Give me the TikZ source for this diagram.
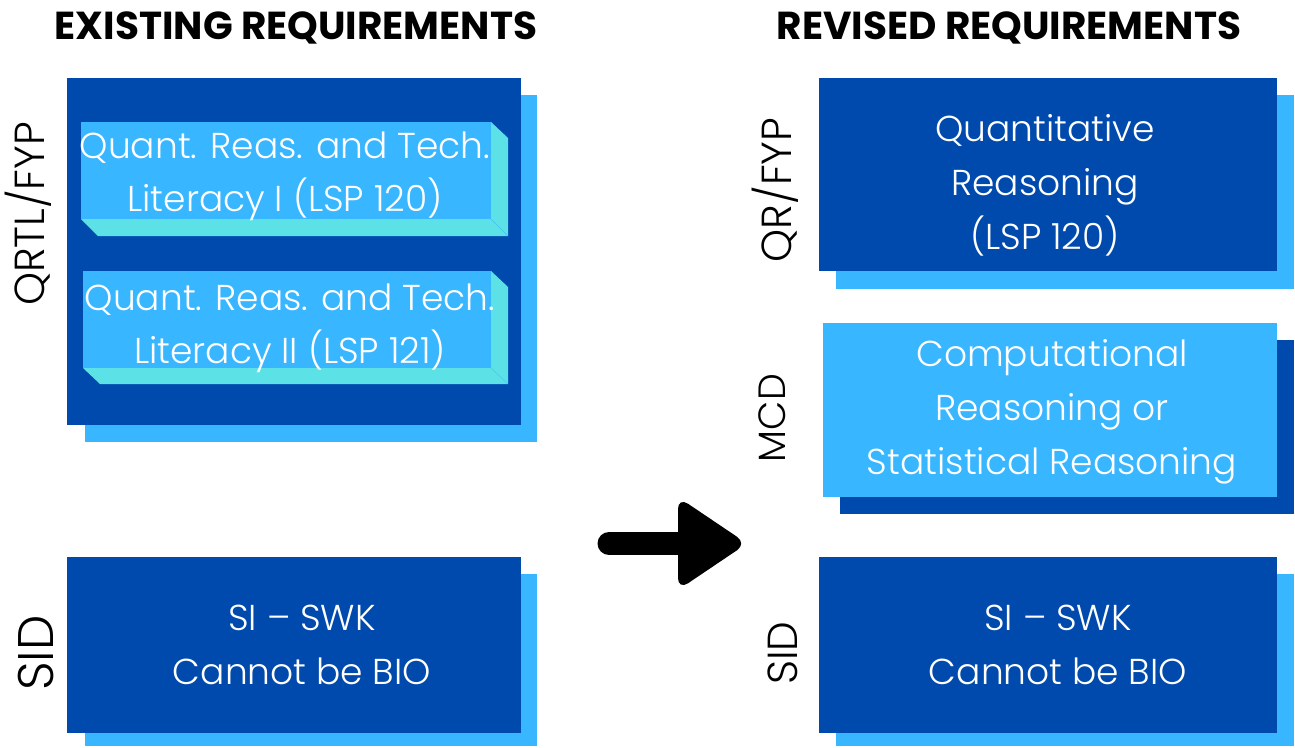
\documentclass[tikz,border=0pt]{standalone}
\usepackage{fontspec}
\setmainfont{Poppins}
\newfontfamily\headfont{Poppins}[UprightFont=* Bold]
\newfontfamily\bodyfont{Poppins}[UprightFont=* Light]
\definecolor{dblue}{HTML}{004AAD}
\definecolor{lblue}{HTML}{38B6FF}
\definecolor{cyanb}{HTML}{5CE1E6}
\tikzset{
  heading/.style={font=\headfont\fontsize{39}{44}\selectfont, text=black, inner sep=0pt},
  sidelabel/.style={font=\bodyfont\fontsize{42}{48}\selectfont, text=black, rotate=90, inner sep=0pt},
  bodytext/.style={font=\bodyfont\fontsize{36}{54}\selectfont, text=white, align=center, inner sep=0pt},
  smalltext/.style={font=\bodyfont\fontsize{36}{53}\selectfont, text=white, align=center, inner sep=0pt},
  bigarrow/.style={line width=23pt, line cap=round},
}
\begin{document}
\begin{tikzpicture}[x=1pt,y=-1pt]
\useasboundingbox (0,0) rectangle (1295,747);
% headings
\node[heading] (h1) at (296,28) {EXISTING REQUIREMENTS};
\node[heading] (h2) at (1009,28) {REVISED REQUIREMENTS};
% left top block
\fill[lblue] (85,95) rectangle (537,442);
\fill[dblue] (67,78) rectangle (521,425);
% bevel box 1
\fill[cyanb] (81,219) -- (98,236) -- (508,236) -- (508,138) -- (491,122) -- (491,219) -- cycle;
\draw[lblue!70!cyanb, line width=0.4pt] (491,219) -- (508,236);
\fill[lblue] (81,122) rectangle (491,219);
\node[smalltext] (b1) at (285,176) {Quant. Reas. and Tech.\\Literacy I (LSP 120)};
% bevel box 2
\fill[cyanb] (83,368) -- (100,384) -- (508,384) -- (508,287) -- (491,271) -- (491,368) -- cycle;
\draw[lblue!70!cyanb, line width=0.4pt] (491,368) -- (508,384);
\fill[lblue] (83,271) rectangle (491,368);
\node[smalltext] (b2) at (290,328) {Quant. Reas. and Tech.\\Literacy II (LSP 121)};
\node[sidelabel] (l1) at (28,214) {QRTL/FYP};
% left bottom block
\fill[lblue] (85,574) rectangle (537,746);
\fill[dblue] (67,557) rectangle (521,733);
\node[bodytext] (b3) at (302,645) {SI – SWK\\Cannot be BIO};
\node[sidelabel, font=\bodyfont\fontsize{50}{56}\selectfont] (l2) at (36,653) {SID};
% right top
\fill[lblue] (836,95) rectangle (1294,289);
\fill[dblue] (819,78) rectangle (1277,271);
\node[bodytext] (r1) at (1045,185) {Quantitative\\Reasoning\\(LSP 120)};
\node[sidelabel] (l3) at (775,190) {QR/FYP};
% right middle
\fill[dblue] (840,340) rectangle (1294,514);
\fill[lblue] (823,323) rectangle (1277,497);
\node[bodytext] (r2) at (1052,412) {Computational\\Reasoning or\\Statistical Reasoning};
\node[sidelabel, font=\bodyfont\fontsize{38}{44}\selectfont] (l4) at (772,418) {MCD};
% right bottom
\fill[lblue] (836,574) rectangle (1294,746);
\fill[dblue] (819,557) rectangle (1277,733);
\node[bodytext] (r3) at (1058,645) {SI – SWK\\Cannot be BIO};
\node[sidelabel] (l5) at (783,653) {SID};
% arrow
\coordinate (as) at (609,543.5);
\coordinate (ae) at (690,543.5);
\draw[black, bigarrow] (as) -- (ae);
\fill[black, rounded corners=12pt] (678,497) -- (747,543.5) -- (678,590) -- cycle;
\end{tikzpicture}
\end{document}
